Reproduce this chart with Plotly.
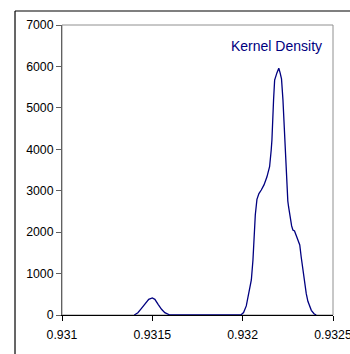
import plotly.graph_objects as go

# Kernel density estimate (x: value, y: density)
density_x = [
    0.93140, 0.93142, 0.93144, 0.93146, 0.93148, 0.93150, 0.931514, 0.931532,
    0.931551, 0.931569, 0.931597, 0.93199, 0.932005, 0.93202, 0.932039, 0.932048,
    0.932057, 0.932062, 0.932070, 0.932079, 0.932090, 0.932103, 0.932118, 0.932134,
    0.932149, 0.932158, 0.932162, 0.932171, 0.932177, 0.932190, 0.932200, 0.932207,
    0.932215, 0.932223, 0.932232, 0.932238, 0.932241, 0.932245, 0.932250, 0.932254,
    0.932260, 0.932264, 0.932271, 0.932278, 0.932287, 0.932298, 0.932308, 0.932316,
    0.932324, 0.932333, 0.932343, 0.932352, 0.932361, 0.932370, 0.932380, 0.932395,
    0.932407,
]
density_y = [
    0, 56, 161, 282, 379, 410, 379, 258,
    137, 56, 0, 0, 60, 220, 600, 845,
    1327, 1760, 2420, 2790, 2930, 3017, 3140, 3330,
    3580, 3983, 4224, 5189, 5672, 5850, 5955, 5850,
    5700, 5189, 4393, 3741, 3500, 3017, 2750, 2614,
    2400, 2293, 2150, 2052, 2030, 1900, 1800, 1690,
    1400, 1079, 780, 514, 330, 200, 113, 30,
    0,
]

x_tick_vals = [0.931, 0.9315, 0.932, 0.9325]
x_tick_text = ["0.931", "0.9315", "0.932", "0.9325"]
y_tick_vals = [0, 1000, 2000, 3000, 4000, 5000, 6000, 7000]
series_name = "Kernel Density"

NAVY = "#000080"
FONT = "Liberation Sans, Arial, sans-serif"

fig = go.Figure()
fig.add_trace(go.Scatter(
    x=density_x, y=density_y, mode="lines",
    line=dict(color=NAVY, width=1.3),
    name=series_name, showlegend=False,
))

fig.update_layout(
    width=350, height=354,
    margin=dict(l=62, r=17, t=25, b=39),
    paper_bgcolor="white", plot_bgcolor="white",
    font=dict(family=FONT, size=12.3, color="black"),
    xaxis=dict(
        range=[0.931, 0.9325], tickvals=x_tick_vals, ticktext=x_tick_text,
        showgrid=False, zeroline=False, showline=True, linecolor="black",
        linewidth=1, ticks="outside", ticklen=5, tickcolor="black",
        ticklabeloverflow="allow", ticklabelstandoff=3, automargin=False,
        layer="below traces",
    ),
    yaxis=dict(
        range=[0, 7000], tickvals=y_tick_vals, automargin=False,
        showgrid=False, zeroline=False, showline=True, linecolor="#606060",
        linewidth=1, ticks="outside", ticklen=5, tickcolor="#606060",
        layer="below traces",
    ),
    shapes=[
        # plot-area frame
        dict(type="rect", xref="paper", yref="paper", x0=0, x1=1, y0=0, y1=1,
             line=dict(color="#909090", width=1), layer="below"),
        # outer chart border (left and top edges)
        dict(type="line", xref="paper", yref="paper",
             x0=-0.1734, x1=-0.1734, y0=-0.14, y1=1.0483,
             line=dict(color="black", width=1.2)),
        dict(type="line", xref="paper", yref="paper",
             x0=-0.1734, x1=1.063, y0=1.0483, y1=1.0483,
             line=dict(color="black", width=1.2)),
    ],
    annotations=[
        dict(text=series_name, xref="paper", yref="paper", x=0.966, y=0.9276,
             xanchor="right", yanchor="middle", showarrow=False,
             font=dict(family=FONT, size=14, color=NAVY)),
    ],
)

fig.write_html("out.html")
